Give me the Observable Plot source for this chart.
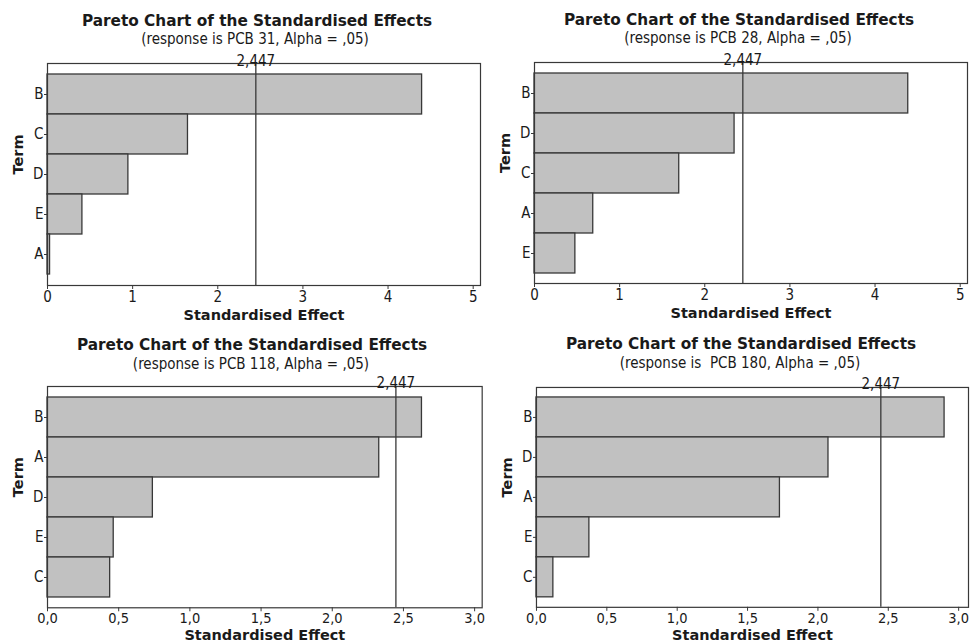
<!DOCTYPE html>
<html>
<head>
<meta charset="utf-8">
<script src="https://cdn.jsdelivr.net/npm/d3@7"></script>
<script src="https://cdn.jsdelivr.net/npm/@observablehq/plot@0.6"></script>
<style>
html, body { margin: 0; padding: 0; background: #fff; overflow: hidden; width: 971px; height: 644px; }
#root { position: relative; width: 971px; height: 644px; }
.title { position: absolute; white-space: pre; font-family: "DejaVu Sans", sans-serif; font-weight: bold; font-size: 15.3px; line-height: 1; color: #1a1a1a; transform: translateX(-50%); }
.sub { position: absolute; white-space: pre; font-family: "DejaVu Sans Condensed", "DejaVu Sans", sans-serif; font-size: 15px; line-height: 1; color: #1a1a1a; transform: translateX(-50%); }
.plotwrap { position: absolute; }
.plotwrap svg { display: block; overflow: visible; }
</style>
</head>
<body>
<div id="root"></div>
<script>
// ---- data ----
const chartTitle = "Pareto Chart of the Standardised Effects";
const subtitles = [
  "(response is PCB 31, Alpha = ,05)",
  "(response is PCB 28, Alpha = ,05)",
  "(response is PCB 118, Alpha = ,05)",
  "(response is  PCB 180, Alpha = ,05)"
];
const criticalValue = 2.447;

const terms31 = ["B", "C", "D", "E", "A"];
const effects31 = [4.40, 1.65, 0.95, 0.41, 0.03];

const terms28 = ["B", "D", "C", "A", "E"];
const effects28 = [4.39, 2.35, 1.70, 0.69, 0.48];

const terms118 = ["B", "A", "D", "E", "C"];
const effects118 = [2.63, 2.33, 0.74, 0.465, 0.44];

const terms180 = ["B", "D", "A", "E", "C"];
const effects180 = [2.90, 2.075, 1.73, 0.376, 0.12];

const ticksTop = [0, 1, 2, 3, 4, 5];
const ticksBottom = [0, 0.5, 1, 1.5, 2, 2.5, 3];

const xLabel = "Standardised Effect";
const yLabel = "Term";

// ---- rendering ----
const root = document.getElementById("root");
const ink = "#1a1a1a";
const lineCol = "#383838";
const fmtComma1 = d => d.toFixed(1).replace(".", ",");
const fmtInt = d => String(d);
const fmtCrit = d => d.toFixed(3).replace(".", ",");
const fs = 15;

function addText(cls, text, cx, top) {
  const el = document.createElement("div");
  el.className = cls;
  el.textContent = text;
  el.style.left = cx + "px";
  el.style.top = top + "px";
  root.appendChild(el);
}

function panel(cfg) {
  const data = cfg.terms.map((t, i) => ({term: t, value: cfg.values[i]}));
  const mL = 47, mR = 3, mT = 63, mB = 42;
  const chart = Plot.plot({
    width: mL + cfg.frameW + mR,
    height: mT + cfg.frameH + mB,
    marginLeft: mL, marginRight: mR, marginTop: mT, marginBottom: mB,
    style: {fontFamily: '"DejaVu Sans Condensed", "DejaVu Sans", sans-serif', fontSize: "15px", color: ink, background: "transparent"},
    x: {domain: [0, cfg.xMax], label: null},
    y: {domain: cfg.terms, paddingInner: 0, paddingOuter: 0.25, label: null},
    marks: [
      Plot.barX(data, {x: "value", y: "term", fill: "#c1c1c1", stroke: lineCol, strokeWidth: 1.3}),
      Plot.ruleX([criticalValue], {stroke: lineCol, strokeWidth: 1.3}),
      Plot.frame({stroke: lineCol, strokeWidth: 1.2}),
      Plot.axisX({ticks: cfg.ticks, tickFormat: cfg.fmt, tickSize: 4, tickPadding: cfg.tickPad, label: null, stroke: lineCol, fontSize: cfg.tickFs}),
      Plot.axisY({tickSize: 3, tickPadding: 1, label: null, stroke: lineCol, fontSize: fs}),
      Plot.text([criticalValue], {x: d => d, frameAnchor: "top", lineAnchor: "bottom", dy: 2, text: fmtCrit, fill: ink, fontSize: fs}),
      Plot.text([xLabel], {frameAnchor: "bottom", lineAnchor: "middle", dy: cfg.labelDy, fontWeight: "bold", fill: ink, fontSize: 14.5, fontFamily: '"DejaVu Sans", sans-serif'}),
      Plot.text([yLabel], {frameAnchor: "left", dx: -29, rotate: -90, fontWeight: "bold", fill: ink, fontSize: 14.5, fontFamily: '"DejaVu Sans", sans-serif'})
    ]
  });
  const wrap = document.createElement("div");
  wrap.className = "plotwrap";
  wrap.style.left = cfg.left + "px";
  wrap.style.top = cfg.top + "px";
  wrap.appendChild(chart);
  root.appendChild(wrap);
  addText("title", chartTitle, cfg.titleX, cfg.titleTop);
  addText("sub", cfg.subtitle, cfg.subX, cfg.subTop);
}

panel({terms: terms31, values: effects31, ticks: ticksTop, fmt: fmtInt, xMax: 5.086, labelDy: 30, tickPad: 2, tickFs: 15,
  left: 0, top: 0, frameW: 433, frameH: 222,
  subtitle: subtitles[0], titleX: 257, titleTop: 14, subX: 255, subTop: 32});
panel({terms: terms28, values: effects28, ticks: ticksTop, fmt: fmtInt, xMax: 5.086, labelDy: 30, tickPad: 2, tickFs: 15,
  left: 487.3, top: -1, frameW: 433, frameH: 221,
  subtitle: subtitles[1], titleX: 739, titleTop: 13, subX: 738, subTop: 31});
panel({terms: terms118, values: effects118, ticks: ticksBottom, fmt: fmtComma1, xMax: 3.053, labelDy: 28, tickPad: 1, tickFs: 14.5,
  left: 0, top: 322.7, frameW: 434.7, frameH: 221.3,
  subtitle: subtitles[2], titleX: 252, titleTop: 338, subX: 251, subTop: 357});
panel({terms: terms180, values: effects180, ticks: ticksBottom, fmt: fmtComma1, xMax: 3.07, labelDy: 28, tickPad: 1, tickFs: 14.5,
  left: 489, top: 323.7, frameW: 432.3, frameH: 220,
  subtitle: subtitles[3], titleX: 741, titleTop: 337, subX: 740, subTop: 356});
</script>
</body>
</html>
